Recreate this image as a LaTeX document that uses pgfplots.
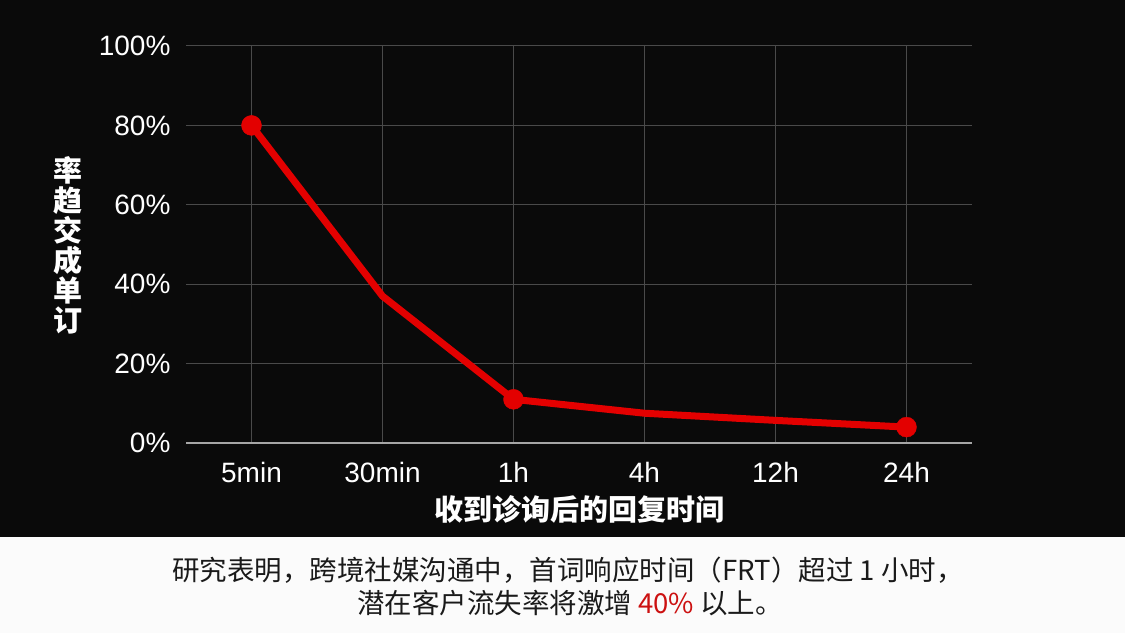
\documentclass[border=0pt]{standalone}
\usepackage{fontspec}
\setmainfont{Liberation Sans}
\newfontfamily\cjk{Noto Sans CJK SC}
\usepackage{pgfplots}
\pgfplotsset{compat=1.18}
\definecolor{bg}{HTML}{0A0A0A}
\definecolor{gridc}{HTML}{4A4A4A}
\definecolor{lred}{HTML}{E30000}
\definecolor{capt}{HTML}{1A1A1A}
\definecolor{capred}{HTML}{CC1111}
\begin{document}
\begin{tikzpicture}[x=1pt,y=1pt]
\fill[bg] (0,96) rectangle (1125,633);
\fill[white!97!gray] (0,0) rectangle (1125,96);
\begin{axis}[at={(186pt,190pt)}, anchor=south west, scale only axis,
  width=786pt, height=397pt,
  xmin=-0.5, xmax=5.5, ymin=0, ymax=100,
  /pgf/number format/assume math mode=true,
  xtick={0,...,5}, xticklabels={5min,30min,1h,4h,12h,24h},
  ytick={0,20,...,100}, yticklabel={\pgfmathprintnumber{\tick}\%},
  grid=major, major grid style={draw=gridc, line width=1pt},
  axis x line=bottom, axis y line=left,
  x axis line style={-, draw=gray!70, line width=1.2pt},
  y axis line style={draw=none},
  major tick length=0pt, tick style={draw=none},
  ticklabel style={white, font=\fontsize{28}{28}\selectfont},
  yticklabel style={xshift=-12pt},
  xticklabel style={yshift=-16pt},
  xlabel={收到诊询后的回复时间},
  xlabel style={font=\cjk\bfseries\fontsize{29}{29}\selectfont, white, yshift=-6pt},
]
\addplot[lred, line width=7pt, line join=round, line cap=round] coordinates {(0,80)(1,37)(2,11)(3,7.5)(4,5.7)(5,4)};
\addplot[only marks, mark=*, mark size=10pt, lred, mark options={draw=lred, fill=lred}] coordinates {(0,80)(2,11)(5,4)};
\end{axis}
\node[white, align=center, font=\cjk\bfseries\fontsize{29}{30}\selectfont] at (68,388) {率\\趋\\交\\成\\单\\订};
\node[capt, font=\cjk\fontsize{27.5}{27.5}\selectfont] at (568,63) {研究表明，跨境社媒沟通中，首词响应时间（FRT）超过 1 小时，};
\node[capt, font=\cjk\fontsize{27.5}{27.5}\selectfont] at (570,30) {潜在客户流失率将激增 \textcolor{capred}{40\%} 以上。};
\pgfresetboundingbox
\useasboundingbox (0,0) rectangle (1125,633);
\end{tikzpicture}
\end{document}
